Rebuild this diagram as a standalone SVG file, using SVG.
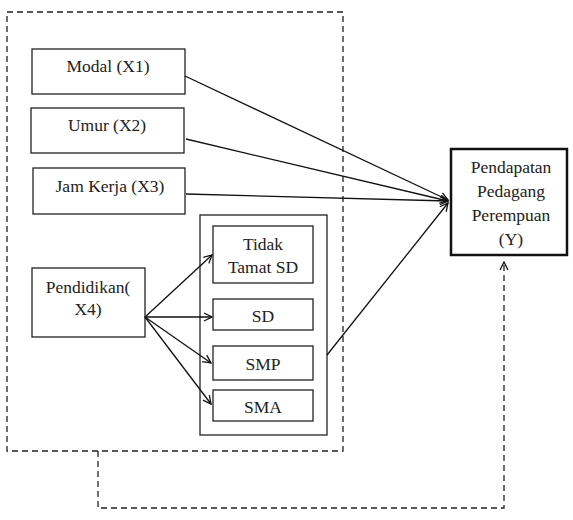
<svg xmlns="http://www.w3.org/2000/svg" width="573" height="520" viewBox="0 0 573 520">
<defs>
<style>
.box{fill:#fff;stroke:#222;stroke-width:1.3}
.t{font-family:'Liberation Serif','Times New Roman',serif;font-size:17.5px;fill:#222;text-anchor:middle}
.ln{stroke:#111;stroke-width:1.3;fill:none}
.dash{stroke:#222;stroke-width:1.3;fill:none;stroke-dasharray:6,4}
</style>
<marker id="ah" markerWidth="10" markerHeight="10" refX="9" refY="5" orient="auto" markerUnits="userSpaceOnUse">
<path d="M1,1 L9,5 L1,9" fill="none" stroke="#111" stroke-width="1.3"/>
</marker>
</defs>
<rect width="573" height="520" fill="#fff"/>
<rect x="7" y="12" width="336" height="439" class="dash"/>
<g id="modal"><rect x="32" y="49" width="153" height="45" class="box"/><text x="108" y="72" class="t">Modal (X1)</text></g>
<g id="umur"><rect x="31" y="108" width="153" height="45" class="box"/><text x="107" y="131" class="t">Umur (X2)</text></g>
<g id="jamkerja"><rect x="33" y="168" width="152" height="46" class="box"/><text x="110" y="192" class="t">Jam Kerja (X3)</text></g>
<g id="pendidikan"><rect x="32" y="268" width="113" height="69" class="box"/><text x="88" y="293" class="t">Pendidikan(</text><text x="88" y="315" class="t">X4)</text></g>
<g id="container"><rect x="200" y="215" width="127" height="220" class="box"/></g>
<g id="tidak"><rect x="213" y="226" width="100" height="57" class="box"/><text x="263" y="250" class="t">Tidak</text><text x="263" y="273" class="t">Tamat SD</text></g>
<g id="sd"><rect x="213" y="299" width="100" height="31" class="box"/><text x="263" y="322" class="t">SD</text></g>
<g id="smp"><rect x="213" y="346" width="100" height="34" class="box"/><text x="263" y="370" class="t">SMP</text></g>
<g id="sma"><rect x="213" y="390" width="100" height="31" class="box"/><text x="263" y="413" class="t">SMA</text></g>
<g id="y"><rect x="451" y="149" width="116" height="106" style="fill:#fff;stroke:#111;stroke-width:2.5"/><text x="511" y="173" class="t">Pendapatan</text><text x="511" y="197" class="t">Pedagang</text><text x="511" y="221" class="t">Perempuan</text><text x="511" y="245" class="t">(Y)</text></g>
<g id="connectors">
<line x1="185" y1="76" x2="448" y2="200" class="ln" marker-end="url(#ah)"/>
<line x1="186" y1="139" x2="448" y2="201" class="ln" marker-end="url(#ah)"/>
<line x1="186" y1="194" x2="448" y2="201" class="ln" marker-end="url(#ah)"/>
<line x1="327" y1="355" x2="448" y2="203" class="ln" marker-end="url(#ah)"/>
<line x1="145" y1="317" x2="212" y2="255" class="ln" marker-end="url(#ah)"/>
<line x1="145" y1="317" x2="212" y2="317" class="ln" marker-end="url(#ah)"/>
<line x1="145" y1="317" x2="211" y2="363" class="ln" marker-end="url(#ah)"/>
<line x1="145" y1="317" x2="211" y2="404" class="ln" marker-end="url(#ah)"/>
<path d="M98,451 V508 H504 V262" class="dash" marker-end="url(#ah)"/>
</g>
</svg>
